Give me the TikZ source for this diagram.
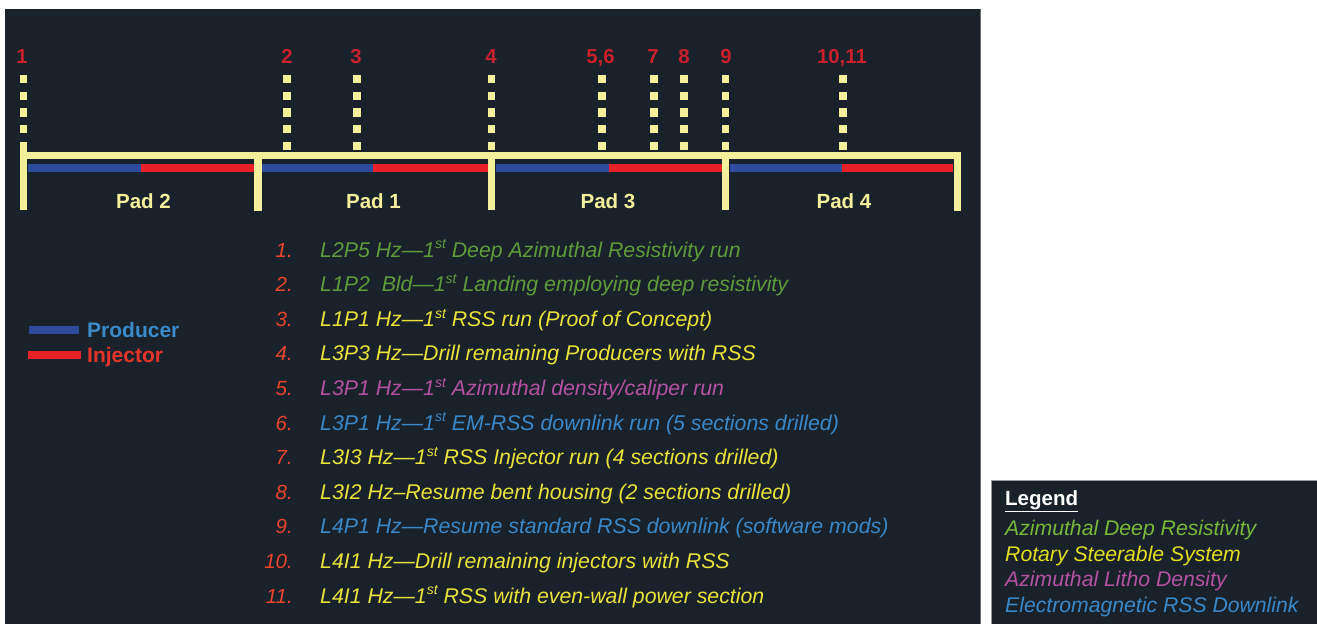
\documentclass[tikz,border=0pt]{standalone}
\usepackage{fontspec}
\setmainfont{Liberation Sans}

\definecolor{panelbg}{HTML}{19212A}
\definecolor{rail}{HTML}{F3EF9B}
\definecolor{numred}{HTML}{C8202C}
\definecolor{listred}{HTML}{E8452C}
\definecolor{prodblue}{HTML}{2F4B9C}
\definecolor{injred}{HTML}{E82127}
\definecolor{labblue}{HTML}{3B8AC9}
\definecolor{labred}{HTML}{E5352A}
\definecolor{adrgreen}{HTML}{5E9B3B}
\definecolor{rssyellow}{HTML}{E9E23A}
\definecolor{aldmagenta}{HTML}{B452A2}
\definecolor{emblue}{HTML}{3A88C8}
\definecolor{leggreen}{HTML}{78B83A}
\definecolor{legyellow}{HTML}{E2DE22}
\definecolor{legborder}{HTML}{9A9EA4}

% ordinal suffix, a little lower than a standard superscript
\newcommand{\ordst}{\raisebox{0.38em}{\fontsize{14}{14}\selectfont st}}

\tikzset{
  rail/.style={draw=rail, line width=7pt},
  post/.style={draw=rail, line width=7.5pt},
  marker/.style={draw=rail, line width=7.5pt, dash pattern=on 8.3pt off 8.4pt},
  prodseg/.style={draw=prodblue, line width=8pt},
  injseg/.style={draw=injred, line width=8pt},
  mnum/.style={text=numred, font=\fontsize{20.3}{20}\selectfont\bfseries, anchor=base, inner sep=0pt},
  padlabel/.style={text=rail, font=\fontsize{20.5}{21}\selectfont\bfseries, anchor=base, inner sep=0pt},
  itemnum/.style={text=listred, font=\fontsize{20.5}{21}\selectfont\itshape, anchor=base east, inner sep=0pt},
  itemtext/.style={font=\fontsize{21.3}{22}\selectfont\itshape, anchor=base west, inner sep=0pt},
  keytext/.style={font=\fontsize{21}{21}\selectfont\bfseries, anchor=base west, inner sep=0pt},
  legtext/.style={font=\fontsize{21.2}{21}\selectfont\itshape, anchor=base west, inner sep=0pt},
}

\begin{document}
\begin{tikzpicture}[x=1pt, y=-1pt]
  \useasboundingbox (0,0) rectangle (1317,624);
  \fill[white] (0,0) rectangle (1317,624);

  % main dark panel
  \fill[panelbg] (5,9) rectangle (981,624);
  \draw[legborder!60!panelbg, line width=1pt] (980.5,9) -- (980.5,624);

  % marker stubs above the rail
  \foreach \mx in {23.5,287,357,491.5,602,654,684,725.5,843}
    \draw[marker] (\mx,75) -- (\mx,152);

  % rail and pad posts
  \draw[rail] (20,155.5) -- (961,155.5);
  \draw[post] (23.5,142) -- (23.5,210);
  \draw[post] (258,152) -- (258,211);
  \draw[post] (491.5,152) -- (491.5,210);
  \draw[post] (725.5,152) -- (725.5,210);
  \draw[post] (957.3,152) -- (957.3,211);

  % producer / injector segments per pad
  \draw[prodseg] (27.5,167.5) -- (141,167.5);
  \draw[injseg]  (141,167.5) -- (254,167.5);
  \draw[prodseg] (262,167.5) -- (373,167.5);
  \draw[injseg]  (373,167.5) -- (487.5,167.5);
  \draw[prodseg] (495.5,167.5) -- (609,167.5);
  \draw[injseg]  (609,167.5) -- (721.5,167.5);
  \draw[prodseg] (729.5,167.5) -- (842,167.5);
  \draw[injseg]  (842,167.5) -- (953,167.5);

  % marker numbers
  \node[mnum] (m1)  at (22,63)  {1};
  \node[mnum] (m2)  at (287,63) {2};
  \node[mnum] (m3)  at (356,63) {3};
  \node[mnum] (m4)  at (491,63) {4};
  \node[mnum] (m56) at (600.5,63) {5,6};
  \node[mnum] (m7)  at (653,63) {7};
  \node[mnum] (m8)  at (684,63) {8};
  \node[mnum] (m9)  at (726,63) {9};
  \node[mnum] (m1011) at (842,63) {10,11};

  % pad labels
  \node[padlabel] (pad2) at (143.5,208) {Pad 2};
  \node[padlabel] (pad1) at (373.5,208) {Pad 1};
  \node[padlabel] (pad3) at (608,208)   {Pad 3};
  \node[padlabel] (pad4) at (844,208)   {Pad 4};

  % well type key
  \draw[prodseg] (29,330) -- (79,330);
  \draw[injseg]  (28,355) -- (81,355);
  \node[keytext, text=labblue] (kprod) at (87,337) {Producer};
  \node[keytext, text=labred]  (kinj)  at (87,362) {Injector};

  % numbered list of milestones
  \node[itemnum] (n1)  at (293,257)   {1.};
  \node[itemnum] (n2)  at (293,291.6) {2.};
  \node[itemnum] (n3)  at (293,326.2) {3.};
  \node[itemnum] (n4)  at (293,360.8) {4.};
  \node[itemnum] (n5)  at (293,395.4) {5.};
  \node[itemnum] (n6)  at (293,430)   {6.};
  \node[itemnum] (n7)  at (293,464.6) {7.};
  \node[itemnum] (n8)  at (293,499.2) {8.};
  \node[itemnum] (n9)  at (293,533.8) {9.};
  \node[itemnum] (n10) at (293,568.4) {10.};
  \node[itemnum] (n11) at (293,603)   {11.};

  \node[itemtext, text=adrgreen]   (t1)  at (320,257)   {L2P5 Hz---1\ordst{} Deep Azimuthal Resistivity run};
  \node[itemtext, text=adrgreen]   (t2)  at (320,291.6) {L1P2\ \ Bld---1\ordst{} Landing employing deep resistivity};
  \node[itemtext, text=rssyellow]  (t3)  at (320,326.2) {L1P1 Hz---1\ordst{} RSS run (Proof of Concept)};
  \node[itemtext, text=rssyellow]  (t4)  at (320,360.8) {L3P3 Hz---Drill remaining Producers with RSS};
  \node[itemtext, text=aldmagenta] (t5)  at (320,395.4) {L3P1 Hz---1\ordst{} Azimuthal density/caliper run};
  \node[itemtext, text=emblue]     (t6)  at (320,430)   {L3P1 Hz---1\ordst{} EM-RSS downlink run (5 sections drilled)};
  \node[itemtext, text=rssyellow]  (t7)  at (320,464.6) {L3I3 Hz---1\ordst{} RSS Injector run (4 sections drilled)};
  \node[itemtext, text=rssyellow]  (t8)  at (320,499.2) {L3I2 Hz--Resume bent housing (2 sections drilled)};
  \node[itemtext, text=emblue]     (t9)  at (320,533.8) {L4P1 Hz---Resume standard RSS downlink (software mods)};
  \node[itemtext, text=rssyellow]  (t10) at (320,568.4) {L4I1 Hz---Drill remaining injectors with RSS};
  \node[itemtext, text=rssyellow]  (t11) at (320,603)   {L4I1 Hz---1\ordst{} RSS with even-wall power section};

  % legend box
  \fill[panelbg] (991,480) rectangle (1317,624);
  \draw[legborder, line width=0.8pt] (991,624) -- (991,480) -- (1317,480);
  \node[keytext, text=white, font=\fontsize{20.5}{20}\selectfont\bfseries] (lhead) at (1005,505) {\underline{Legend}};
  \node[legtext, text=leggreen]   (l1) at (1005,535) {Azimuthal Deep Resistivity};
  \node[legtext, text=legyellow]  (l2) at (1005,561) {Rotary Steerable System};
  \node[legtext, text=aldmagenta] (l3) at (1005,586) {Azimuthal Litho Density};
  \node[legtext, text=emblue]     (l4) at (1005,612) {Electromagnetic RSS Downlink};
\end{tikzpicture}
\end{document}
